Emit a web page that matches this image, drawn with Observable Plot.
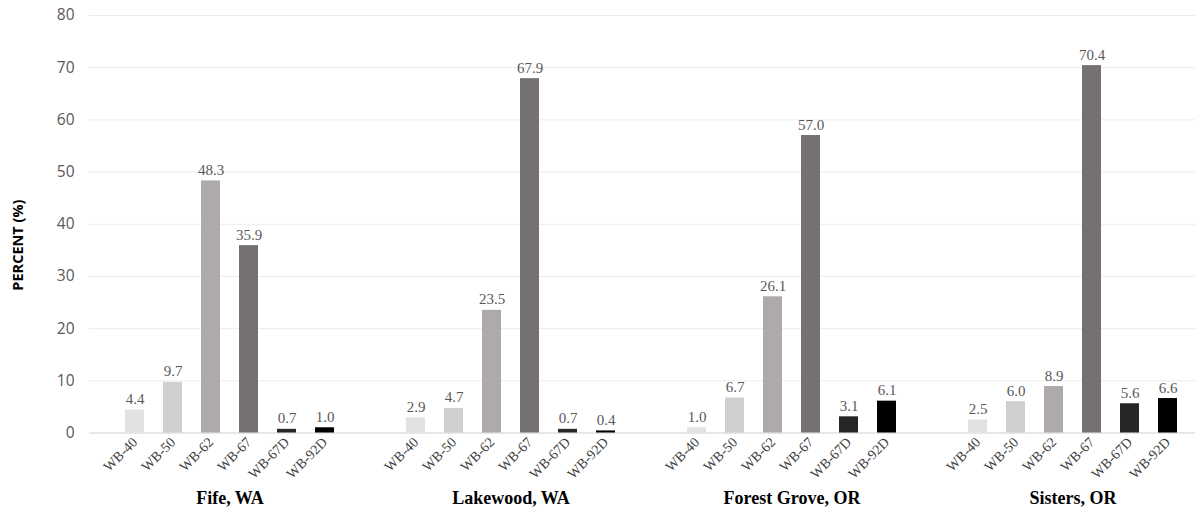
<!DOCTYPE html>
<html>
<head>
<meta charset="utf-8">
<script src="https://cdn.jsdelivr.net/npm/d3@7"></script>
<script src="https://cdn.jsdelivr.net/npm/@observablehq/plot@0.6"></script>
<style>
  html, body { margin: 0; padding: 0; background: #fff; overflow: hidden; }
  #chart svg { overflow: hidden; }
</style>
</head>
<body>
<div id="chart"></div>
<script>
// Sampling sites and sieve classes
const sites = ["Fife, WA", "Lakewood, WA", "Forest Grove, OR", "Sisters, OR"];
const types = ["WB-40", "WB-50", "WB-62", "WB-67", "WB-67D", "WB-92D"];

// Percent share of each class, per site (same order as types)
const fifeValues        = [4.4, 9.7, 48.3, 35.9, 0.7, 1.0];
const lakewoodValues    = [2.9, 4.7, 23.5, 67.9, 0.7, 0.4];
const forestGroveValues = [1.0, 6.7, 26.1, 57.0, 3.1, 6.1];
const sistersValues     = [2.5, 6.0, 8.9, 70.4, 5.6, 6.6];

const yTicks = [0, 10, 20, 30, 40, 50, 60, 70, 80];
const yLabel = "PERCENT (%)";

const seriesBySite = [fifeValues, lakewoodValues, forestGroveValues, sistersValues];
const rows = sites.flatMap((site, i) =>
  types.map((type, j) => ({site, type, value: seriesBySite[i][j]}))
);

const serif = "'Liberation Serif', 'Times New Roman', serif";
const sans = "'Open Sans', 'Liberation Sans', sans-serif";

const chart = Plot.plot({
  width: 1195,
  height: 517,
  marginTop: 15,
  marginBottom: 84.5,
  marginLeft: 88,
  marginRight: -19,
  style: {background: "#ffffff", overflow: "hidden"},
  fx: {domain: sites, padding: 0, axis: null},
  x: {domain: types, paddingInner: 0.5, paddingOuter: 0.935, axis: null},
  y: {domain: [0, 80], axis: null},
  color: {
    domain: types,
    range: ["#e2e2e2", "#d0cece", "#aeaaaa", "#767171", "#262626", "#000000"]
  },
  marks: [
    Plot.gridY(yTicks, {stroke: "#ececec", strokeOpacity: 1}),
    Plot.ruleY([0], {stroke: "#d9d9d9"}),
    Plot.barY(rows, {fx: "site", x: "type", y: "value", fill: "type"}),
    Plot.text(rows, {
      fx: "site", x: "type", y: "value",
      text: d => d.value.toFixed(1),
      lineAnchor: "bottom", dy: -6,
      fill: "#595959", fontFamily: serif, fontSize: 15
    }),
    Plot.axisY({
      ticks: yTicks, tickSize: 0, tickPadding: 15, label: null,
      fontFamily: sans, fontSize: 15.5, color: "#595959"
    }),
    Plot.axisX({
      tickSize: 0, tickPadding: 7, tickRotate: -45, label: null,
      fontFamily: serif, fontSize: 14, color: "#404040"
    }),
    Plot.text(sites, {
      fx: d => d, text: d => d,
      frameAnchor: "bottom", dy: 70.5,
      fontFamily: serif, fontSize: 18, fontWeight: "bold", fill: "#000"
    }),
    // Vertical axis title, centred slightly below the middle of the frame
    Plot.text([yLabel], {
      fx: () => sites[0], y: () => 36, text: d => d,
      frameAnchor: "left", textAnchor: "middle", rotate: -90, dx: -71,
      fontFamily: sans, fontSize: 14.5, fontWeight: "bold", fill: "#000"
    })
  ]
});

document.getElementById("chart").appendChild(chart);
</script>
</body>
</html>
